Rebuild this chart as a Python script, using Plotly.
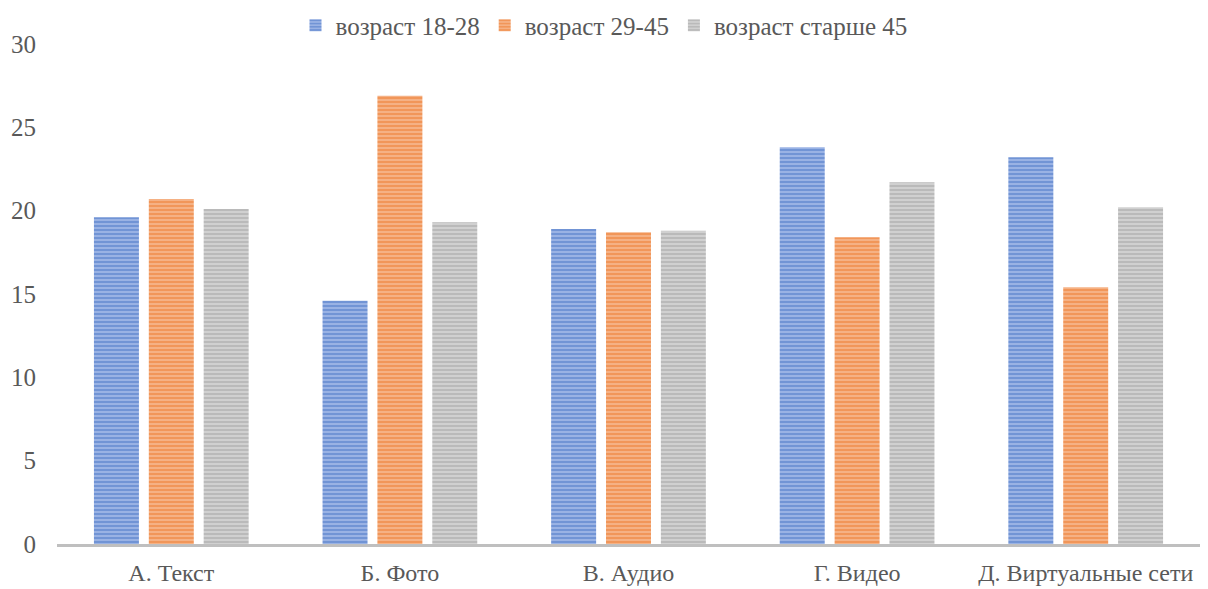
import plotly.graph_objects as go

categories = ["А. Текст", "Б. Фото", "В. Аудио", "Г. Видео", "Д. Виртуальные сети"]
series_names = ["возраст 18-28", "возраст 29-45", "возраст старше 45"]
values_18_28 = [19.6, 14.6, 18.9, 23.8, 23.2]
values_29_45 = [20.7, 26.9, 18.7, 18.4, 15.4]
values_45_plus = [20.1, 19.3, 18.8, 21.7, 20.2]
y_ticks = [0, 5, 10, 15, 20, 25, 30]

colors_fg = ["#3F6DC2", "#EC7424", "#9E9E9E"]
colors_bg = ["#A3BAE8", "#F6B88E", "#D6D6D6"]

fig = go.Figure()
for name, vals, fg, bg in zip(series_names, [values_18_28, values_29_45, values_45_plus], colors_fg, colors_bg):
    fig.add_trace(go.Bar(
        x=categories, y=vals, name=name,
        marker=dict(color=bg, line=dict(width=0),
                    pattern=dict(shape="-", fgcolor=fg, bgcolor=bg, size=4, solidity=0.6, fillmode="overlay")),
    ))

# page body has an 8px margin; figure sized to fit inside the 1208x589 window
fig.update_layout(
    width=1192, height=581,
    paper_bgcolor="white", plot_bgcolor="white",
    margin=dict(l=49, r=0, t=36, b=45, autoexpand=False),
    barmode="group", bargap=0.28, bargroupgap=0.18,
    font=dict(family="Liberation Serif, Times New Roman, serif", color="#595959", size=25),
    legend=dict(orientation="h", x=0.5, xanchor="center", xref="container",
                y=0.97, yanchor="middle", yref="container",
                font=dict(size=25, color="#595959"), itemwidth=30, traceorder="normal"),
    xaxis=dict(showgrid=False, showline=True, linecolor="#BFBFBF", linewidth=3,
               ticks="", automargin=False, ticklabelstandoff=5,
               tickfont=dict(size=24, color="#595959")),
    yaxis=dict(range=[0, 30], tickvals=y_ticks, showgrid=False, showline=False,
               zeroline=False, ticks="", automargin=False, ticklabelstandoff=20,
               tickfont=dict(size=25, color="#595959")),
)

fig.write_html("out.html")
